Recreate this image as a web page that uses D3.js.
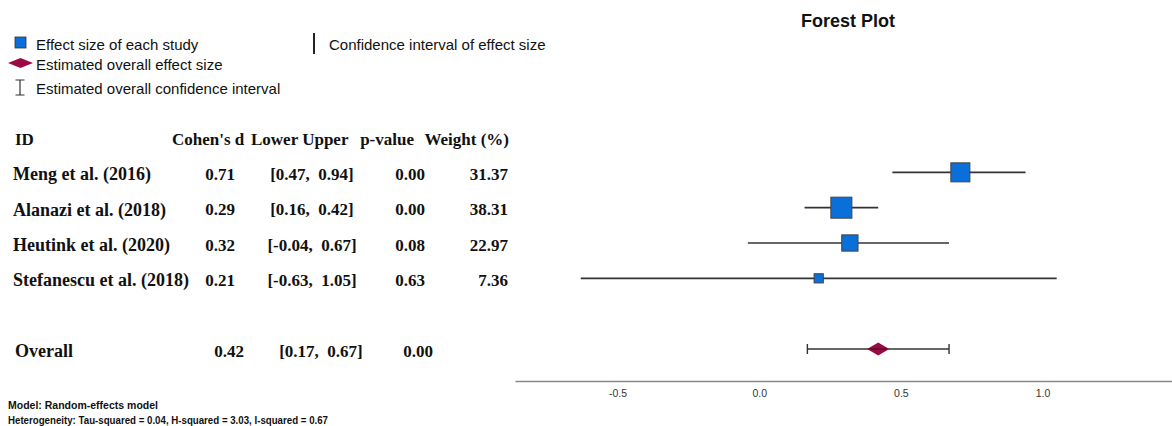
<!DOCTYPE html>
<html><head><meta charset="utf-8">
<script src="https://cdn.jsdelivr.net/npm/d3@7"></script>
<style>
body{margin:0;background:#fff;}
svg{display:block;}
text{white-space:pre;}
</style></head>
<body>
<script>
// ---- data ----
const studies = ["Meng et al. (2016)", "Alanazi et al. (2018)", "Heutink et al. (2020)", "Stefanescu et al. (2018)"];
const cohenD = [0.71, 0.29, 0.32, 0.21];
const lower = [0.47, 0.16, -0.04, -0.63];
const upper = [0.94, 0.42, 0.67, 1.05];
const pValues = [0.00, 0.00, 0.08, 0.63];
const weights = [31.37, 38.31, 22.97, 7.36];
const overallD = 0.42, overallLower = 0.17, overallUpper = 0.67, overallP = 0.00;
const tickValues = [-0.5, 0.0, 0.5, 1.0];
const headers = ["ID", "Cohen's d", "Lower Upper", "p-value", "Weight (%)"];
const legendItems = ["Effect size of each study", "Confidence interval of effect size", "Estimated overall effect size", "Estimated overall confidence interval"];
const footnotes = ["Model: Random-effects model", "Heterogeneity: Tau-squared = 0.04, H-squared = 3.03, I-squared = 0.67"];
const title = "Forest Plot";

const W = 1172, H = 426;
const svg = d3.select("body").append("svg").attr("width", W).attr("height", H);

const BLUE = "#0a6fd8", MAROON = "#9c0a46", LINE = "#333";
const loc = d3.formatLocale({decimal: ".", thousands: ",", grouping: [3], currency: ["", ""], minus: "-"});
const fmt2 = loc.format(".2f");
const fmt1 = loc.format(".1f");

// scales
const x = d3.scaleLinear().domain([-0.862, 1.457]).range([515, 1172]);
const rows = ["hdr", ...studies, "gap", "Overall"];
const y = d3.scalePoint().domain(rows).range([137, 349]);
const size = d3.scaleSqrt().domain([0, 40]).range([0, 21.5]);

// title
svg.append("text").attr("x", 848).attr("y", 21).attr("text-anchor", "middle")
  .attr("dominant-baseline", "central")
  .style("font-family", "Liberation Sans, Arial, sans-serif").style("font-weight", "bold")
  .style("font-size", "18px").attr("fill", "#111").text(title);

// legend
const lg = svg.append("g").style("font-family", "Liberation Sans, Arial, sans-serif")
  .style("font-size", "15px").attr("fill", "#111");
lg.append("rect").attr("x", 15).attr("y", 37).attr("width", 11).attr("height", 11)
  .attr("fill", BLUE).attr("stroke", "#333").attr("stroke-width", 0.8);
lg.append("text").attr("x", 36).attr("y", 44).attr("dominant-baseline", "central").text(legendItems[0]);
lg.append("line").attr("x1", 314).attr("x2", 314).attr("y1", 33).attr("y2", 54)
  .attr("stroke", "#222").attr("stroke-width", 2);
lg.append("text").attr("x", 329).attr("y", 44).attr("dominant-baseline", "central").text(legendItems[1]);
lg.append("path").attr("d", "M8,63 L20.5,58 L33,63 L20.5,68 Z").attr("fill", MAROON);
lg.append("text").attr("x", 36).attr("y", 64).attr("dominant-baseline", "central").text(legendItems[2]);
lg.append("path").attr("d", "M20,80 V95 M15.5,80 H24.5 M15.5,95 H24.5").attr("stroke", "#333")
  .attr("stroke-width", 1.2).attr("fill", "none");
lg.append("text").attr("x", 36).attr("y", 88).attr("dominant-baseline", "central").text(legendItems[3]);

// table
const tb = svg.append("g").style("font-family", "Liberation Serif, 'Times New Roman', serif")
  .style("font-weight", "bold").style("font-size", "17px").attr("fill", "#111");
const hy = y("hdr") + 2;
tb.append("text").attr("x", 15).attr("y", hy).attr("dominant-baseline", "central").text(headers[0]);
tb.append("text").attr("x", 172).attr("y", hy).attr("dominant-baseline", "central").text(headers[1]);
tb.append("text").attr("x", 251).attr("y", hy).attr("dominant-baseline", "central").text(headers[2]);
tb.append("text").attr("x", 414).attr("y", hy).attr("text-anchor", "end").attr("dominant-baseline", "central").text(headers[3]);
tb.append("text").attr("x", 509).attr("y", hy).attr("text-anchor", "end")
  .attr("dominant-baseline", "central").text(headers[4]);

studies.forEach((s, i) => {
  const yy = y(s) + 2;
  const r = tb.append("g");
  r.append("text").attr("x", 13).attr("y", yy).attr("dominant-baseline", "central")
    .style("font-size", "18px").text(s);
  r.append("text").attr("x", 220).attr("y", yy).attr("text-anchor", "middle").attr("dominant-baseline", "central").text(fmt2(cohenD[i]));
  r.append("text").attr("x", 312).attr("y", yy).attr("text-anchor", "middle").attr("dominant-baseline", "central")
    .text(`[${fmt2(lower[i])},  ${fmt2(upper[i])}]`);
  r.append("text").attr("x", 410).attr("y", yy).attr("text-anchor", "middle").attr("dominant-baseline", "central").text(fmt2(pValues[i]));
  r.append("text").attr("x", 508).attr("y", yy).attr("text-anchor", "end").attr("dominant-baseline", "central").text(fmt2(weights[i]));
});
const oy = y("Overall") + 2;
tb.append("text").attr("x", 15).attr("y", oy).attr("dominant-baseline", "central").style("font-size", "18px").text("Overall");
tb.append("text").attr("x", 229).attr("y", oy).attr("text-anchor", "middle").attr("dominant-baseline", "central").text(fmt2(overallD));
tb.append("text").attr("x", 321).attr("y", oy).attr("text-anchor", "middle").attr("dominant-baseline", "central")
  .text(`[${fmt2(overallLower)},  ${fmt2(overallUpper)}]`);
tb.append("text").attr("x", 418).attr("y", oy).attr("text-anchor", "middle").attr("dominant-baseline", "central").text(fmt2(overallP));

// plot: CI lines
const plot = svg.append("g");
plot.selectAll("line.ci").data(studies).join("line").attr("class", "ci")
  .attr("x1", (d, i) => x(lower[i])).attr("x2", (d, i) => x(upper[i]))
  .attr("y1", d => y(d)).attr("y2", d => y(d))
  .attr("stroke", LINE).attr("stroke-width", 1.6);
plot.selectAll("rect.es").data(studies).join("rect").attr("class", "es")
  .attr("x", (d, i) => x(cohenD[i]) - size(weights[i]) / 2)
  .attr("y", (d, i) => y(d) - size(weights[i]) / 2)
  .attr("width", (d, i) => size(weights[i])).attr("height", (d, i) => size(weights[i]))
  .attr("fill", BLUE).attr("stroke", "#444").attr("stroke-width", 1);
// overall CI
const oY = y("Overall");
plot.append("line").attr("x1", x(overallLower)).attr("x2", x(overallUpper)).attr("y1", oY).attr("y2", oY)
  .attr("stroke", LINE).attr("stroke-width", 1.4);
[overallLower, overallUpper].forEach(v => plot.append("line").attr("x1", x(v)).attr("x2", x(v))
  .attr("y1", oY - 5).attr("y2", oY + 5).attr("stroke", LINE).attr("stroke-width", 1.4));
const cx = x(overallD);
plot.append("path").attr("d", `M${cx - 11},${oY} L${cx},${oY - 6.5} L${cx + 11},${oY} L${cx},${oY + 6.5} Z`)
  .attr("fill", MAROON);
plot.append("line").attr("x1", cx - 9).attr("x2", cx + 9).attr("y1", oY).attr("y2", oY)
  .attr("stroke", "#3a0a1c").attr("stroke-width", 1);

// axis
const axisG = svg.append("g").attr("transform", "translate(0,381)")
  .call(d3.axisBottom(x).tickValues(tickValues).tickFormat(fmt1).tickSize(0).tickPadding(9));
axisG.select(".domain").attr("stroke", "#888").attr("stroke-width", 1.5);
axisG.selectAll("text").style("font-family", "Liberation Sans, Arial, sans-serif")
  .style("font-size", "10.5px").attr("fill", "#333");

// footnotes
const fn = svg.append("g").style("font-family", "Liberation Sans, Arial, sans-serif")
  .style("font-weight", "bold").style("font-size", "10.5px").attr("fill", "#111");
fn.append("text").attr("x", 8).attr("y", 409).attr("textLength", 150).attr("lengthAdjust", "spacingAndGlyphs").text(footnotes[0]);
fn.append("text").attr("x", 8).attr("y", 424).attr("textLength", 320).attr("lengthAdjust", "spacingAndGlyphs").text(footnotes[1]);
</script>
</body></html>
